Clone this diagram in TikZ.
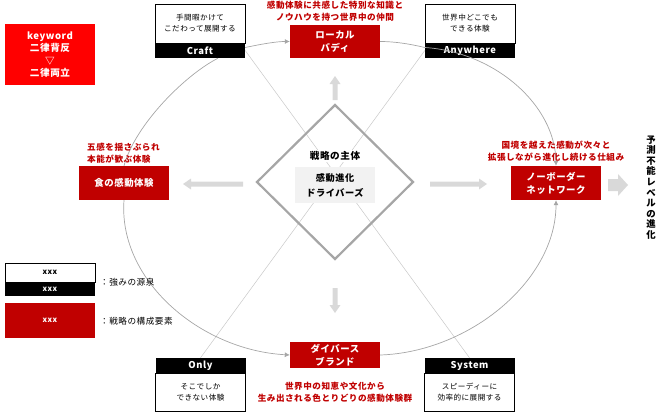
\documentclass[tikz,border=0pt]{standalone}
\usepackage{fontspec}
\setmainfont{Noto Sans CJK JP}[LetterSpace=6]
\usepackage{tikz}
\usetikzlibrary{arrows.meta, calc}
\definecolor{darkRed}{HTML}{C00000}
\definecolor{keyRed}{HTML}{FF0000}
\definecolor{ringGray}{HTML}{A6A6A6}
\definecolor{lineGray}{HTML}{C8C8C8}
\definecolor{arrowGray}{HTML}{D9D9D9}
\definecolor{coreGray}{HTML}{F2F2F2}
\tikzset{
  whitebox/.style={draw=black, line width=0.8pt, fill=white, minimum width=90pt,
    minimum height=39pt, inner sep=0pt, align=center, font=\fontsize{7.6}{11}\selectfont},
  blackbar/.style={fill=black, text=white, minimum width=90pt, minimum height=15pt,
    inner sep=0pt, font=\bfseries\fontsize{9.4}{10}\selectfont},
  redbox/.style={fill=darkRed, text=white, minimum width=90pt, minimum height=34pt,
    inner sep=0pt, align=center, font=\bfseries\fontsize{9.4}{13}\selectfont},
  note/.style={text=darkRed, align=center, inner sep=0pt, font=\bfseries\fontsize{8.6}{12}\selectfont},
  ring/.style={draw=ringGray, line width=0.7pt},
  ringarrow/.style={ring, -{Latex[length=5pt,width=5pt]}},
  thinline/.style={draw=lineGray, line width=0.5pt},
}

\begin{document}
\begin{tikzpicture}[x=1pt, y=-1pt]
    \useasboundingbox (0,0) rectangle (660,412);
    % keyword
    \node[fill=keyRed, text=white, minimum width=90pt, minimum height=61pt, inner sep=0pt,
        align=center, font=\bfseries\fontsize{9.6}{12.5}\selectfont] (keyword) at (50,54.5)
        {keyword\\二律背反\\▽\\二律両立};
    % sources of strength
    \node[whitebox] (craft) at (200,23.5) {手間暇かけて\\こだわって展開する};
    \node[blackbar] (craftbar) at (200,50.5) {Craft};
    \node[whitebox] (anywhere) at (470,23.5) {世界中どこでも\\できる体験};
    \node[blackbar] (anybar) at (470,50.5) {Anywhere};
    \node[blackbar] (onlybar) at (200.5,365.5) {Only};
    \node[whitebox, minimum height=38pt] (only) at (200.5,392) {そこでしか\\できない体験};
    \node[blackbar] (sysbar) at (469.5,365.5) {System};
    \node[whitebox, minimum height=38pt] (system) at (469.5,392) {スピーディーに\\効率的に展開する};
    % strategy elements
    \node[redbox, minimum height=33pt] (buddy) at (335,41.5) {ローカル\\バディ};
    \node[redbox] (food) at (124,183) {食の感動体験};
    \node[redbox] (noborder) at (556,183) {ノーボーダー\\ネットワーク};
    \node[redbox, minimum height=26pt] (diverse) at (335,355) {ダイバース\\ブランド};
    % cross lines
    \draw[thinline] (craftbar.east) -- (sysbar.north);
    \draw[thinline] (anybar.west) -- (onlybar.north);
    % ring
    \draw[ringarrow] ($(craftbar.east)+(0,-3)$) .. controls (262,44) and (276,41.5) .. (buddy.west);
    \draw[ring] (buddy.east) .. controls (395,41.5) and (410,44) .. ($(anybar.west)+(0,-3)$);
    \draw[ringarrow] ($(anybar.west)+(0,-3)$) .. controls (495,52) and (555,105) .. (noborder.north);
    \draw[ringarrow] (diverse.east) .. controls (470,352) and (556,280) .. (noborder.south);
    \draw[ring] ($(craftbar.south)+(18,0)$) .. controls (185,75) and (135,125) .. (food.north);
    \draw[ringarrow] (food.south) .. controls (118,280) and (200,350) .. (diverse.west);
    % core
    \draw[draw=ringGray, line width=2.2pt] (335,105) -- (413,182) -- (335,259) -- (257,182) -- cycle;
    \node[fill=white, inner sep=1pt, font=\bfseries\fontsize{9.6}{11}\selectfont] (subject) at (335,156) {戦略の主体};
    \node[fill=coreGray, minimum width=80pt, minimum height=36pt, inner sep=0pt, align=center,
        font=\bfseries\fontsize{9.2}{15}\selectfont] (drivers) at (335,185) {感動進化\\ドライバーズ};
    \foreach \px/\py/\ang/\len in {335/76/90/24, 183/184/180/60, 487/184/0/57, 335/313/-90/25}
        \fill[arrowGray, shift={(\px,\py)}, rotate=\ang]
            (0,0) -- (-8,-5.5) -- (-8,-2.5) -- (-\len,-2.5) -- (-\len,2.5) -- (-8,2.5) -- (-8,5.5) -- cycle;
    \fill[arrowGray] (608,179) -- (618,179) -- (618,174) -- (628,185) -- (618,196) -- (618,191) -- (608,191) -- cycle;
    % notes
    \node[note] (buddynote) at (335,11.5) {感動体験に共感した特別な知識と\\ノウハウを持つ世界中の仲間};
    \node[note, align=left, anchor=west] (foodnote) at (87,153) {五感を揺さぶられ\\本能が歓ぶ体験};
    \node[note] (bordernote) at (556,151) {国境を越えた感動が次々と\\拡張しながら進化し続ける仕組み};
    \node[note] (diversenote) at (335,392.5) {世界中の知恵や文化から\\生み出される色とりどりの感動体験群};
    \node[align=center, inner sep=0pt, font=\bfseries\fontsize{9.4}{10.6}\selectfont] (evolution) at (651,187.5)
        {予\\測\\不\\能\\レ\\ベ\\ル\\の\\進\\化};
    % legend
    \node[whitebox, minimum height=19pt, font=\bfseries\fontsize{7.6}{8}\selectfont] (legsource) at (50,272.5) {xxx};
    \node[blackbar, minimum height=14pt, font=\bfseries\fontsize{7.6}{8}\selectfont] (legbar) at (50,289) {xxx};
    \node[redbox, minimum height=35pt, font=\bfseries\fontsize{7.6}{8}\selectfont] (legred) at (50,320.5) {xxx};
    \node[anchor=west, inner sep=0pt, font=\fontsize{8.6}{10}\selectfont] (legsourcetext) at (100,282) {：強みの源泉};
    \node[anchor=west, inner sep=0pt, font=\fontsize{8.6}{10}\selectfont] (legredtext) at (100,321) {：戦略の構成要素};
\end{tikzpicture}
\end{document}
